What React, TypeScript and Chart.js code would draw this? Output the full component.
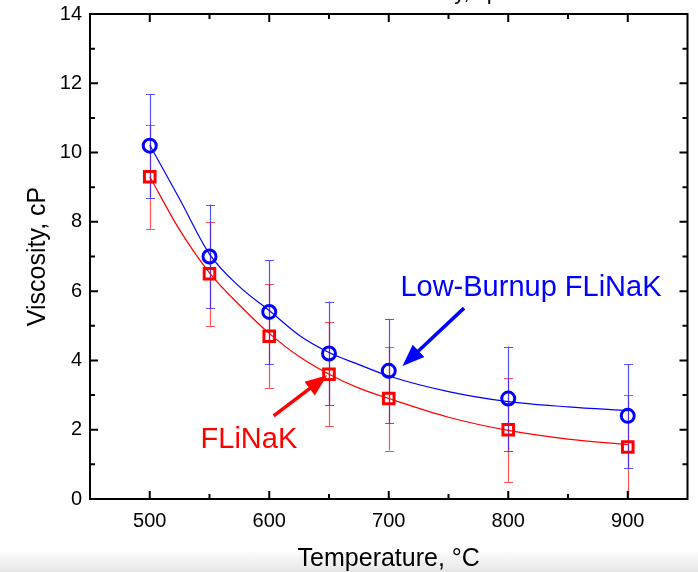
import React, { useEffect, useRef } from "react";
import { Chart, registerables } from "chart.js";
Chart.register(...registerables);

// Measured points
const temps = [500, 550, 600, 650, 700, 800, 900];
const lowBurnup = [10.2, 7.0, 5.4, 4.2, 3.7, 2.9, 2.4];
const lowBurnupErr = [1.5, 1.5, 1.5, 1.5, 1.5, 1.5, 1.5];
const flinak = [9.3, 6.5, 4.7, 3.6, 2.9, 2.0, 1.5];
const flinakErr = [1.5, 1.5, 1.5, 1.5, 1.5, 1.5, 1.5];

// Fit curves
const fitTemps = [500, 525, 550, 575, 600, 625, 650, 675, 700, 750, 800, 850, 900];
const lowBurnupFit = [10.22, 8.66, 7.07, 6.13, 5.44, 4.73, 4.23, 3.88, 3.55, 3.1, 2.81, 2.66, 2.55];
const flinakFit = [9.3, 7.77, 6.53, 5.6, 4.78, 4.11, 3.6, 3.2, 2.9, 2.36, 1.98, 1.73, 1.57];

// Axis settings
const xMin = 450;
const xMax = 950;
const yMin = 0;
const yMax = 14;

const FONT = "'Liberation Sans', Arial, Helvetica, sans-serif";
const BLUE = "#0000ff";
const RED = "#ff0000";

const toXY = (xs: number[], ys: number[]) => xs.map((x, i) => ({ x, y: ys[i] }));

const framePlugin = {
  id: "frameTicks",
  beforeDatasetsDraw(chart: any) {
    const { ctx, scales } = chart;
    const xs = scales.x;
    const ys = scales.y;
    ctx.save();
    const drawErr = (vals: number[], errs: number[], color: string) => {
      ctx.strokeStyle = color;
      ctx.lineWidth = 1.2;
      temps.forEach((t, i) => {
        const px = Math.round(xs.getPixelForValue(t)) + 0.5;
        const lo = Math.max(yMin, vals[i] - errs[i]);
        const hi = Math.min(yMax, vals[i] + errs[i]);
        const pLo = ys.getPixelForValue(lo);
        const pHi = ys.getPixelForValue(hi);
        ctx.beginPath();
        ctx.moveTo(px, pLo);
        ctx.lineTo(px, pHi);
        ctx.moveTo(px - 4.5, Math.round(pHi) + 0.5);
        ctx.lineTo(px + 4.5, Math.round(pHi) + 0.5);
        ctx.moveTo(px - 4.5, Math.round(pLo) + 0.5);
        ctx.lineTo(px + 4.5, Math.round(pLo) + 0.5);
        ctx.stroke();
      });
    };
    drawErr(flinak, flinakErr, "rgba(255,40,40,0.8)");
    drawErr(lowBurnup, lowBurnupErr, "rgba(40,40,255,0.8)");
    ctx.restore();
  },
  afterDraw(chart: any) {
    const { ctx, chartArea, scales } = chart;
    const { left, right, top, bottom } = chartArea;
    const xs = scales.x;
    const ys = scales.y;
    ctx.save();
    ctx.strokeStyle = "#000";
    ctx.lineWidth = 2;
    ctx.strokeRect(left, top, right - left, bottom - top);
    ctx.beginPath();
    for (let v = xMin + 50; v < xMax; v += 50) {
      const px = xs.getPixelForValue(v);
      const len = v % 100 === 0 ? 8 : 5;
      ctx.moveTo(px, bottom);
      ctx.lineTo(px, bottom - len);
      ctx.moveTo(px, top);
      ctx.lineTo(px, top + len);
    }
    for (let v = yMin + 1; v < yMax; v += 1) {
      const py = ys.getPixelForValue(v);
      const len = v % 2 === 0 ? 8 : 5;
      ctx.moveTo(left, py);
      ctx.lineTo(left + len, py);
      ctx.moveTo(right, py);
      ctx.lineTo(right - len, py);
    }
    ctx.stroke();

    // clipped title at top
    ctx.fillStyle = "#000";
    ctx.font = `22px ${FONT}`;
    ctx.textAlign = "right";
    ctx.textBaseline = "alphabetic";
    ctx.fillText("Viscosity, cp", 499, -1.5);

    // annotations
    const arrow = (x1: number, y1: number, x2: number, y2: number, color: string) => {
      const ax = xs.getPixelForValue(x1);
      const ay = ys.getPixelForValue(y1);
      const bx = xs.getPixelForValue(x2);
      const by = ys.getPixelForValue(y2);
      const ang = Math.atan2(by - ay, bx - ax);
      const hl = 22;
      const hw = 8.5;
      const baseX = bx - hl * Math.cos(ang);
      const baseY = by - hl * Math.sin(ang);
      ctx.strokeStyle = color;
      ctx.fillStyle = color;
      ctx.lineWidth = 3.5;
      ctx.beginPath();
      ctx.moveTo(ax, ay);
      ctx.lineTo(baseX + 2 * Math.cos(ang), baseY + 2 * Math.sin(ang));
      ctx.stroke();
      ctx.beginPath();
      ctx.moveTo(bx, by);
      ctx.lineTo(baseX + hw * Math.sin(ang), baseY - hw * Math.cos(ang));
      ctx.lineTo(baseX - hw * Math.sin(ang), baseY + hw * Math.cos(ang));
      ctx.closePath();
      ctx.fill();
    };
    arrow(763, 5.51, 711.5, 3.84, BLUE);
    arrow(603.7, 2.4, 648.5, 3.57, RED);

    ctx.font = `29px ${FONT}`;
    ctx.textAlign = "center";
    ctx.textBaseline = "middle";
    ctx.fillStyle = BLUE;
    ctx.fillText("Low-Burnup FLiNaK", xs.getPixelForValue(819), ys.getPixelForValue(6.09));
    ctx.fillStyle = RED;
    ctx.fillText("FLiNaK", xs.getPixelForValue(583), ys.getPixelForValue(1.7));
    ctx.restore();
  },
};

export default function App() {
  const ref = useRef<HTMLCanvasElement>(null);
  useEffect(() => {
    if (!ref.current) return;
    const chart = new Chart(ref.current, {
      type: "scatter",
      data: {
        datasets: [
          {
            label: "Low-Burnup FLiNaK",
            data: toXY(temps, lowBurnup),
            showLine: false,
            pointStyle: "circle",
            pointRadius: 6.5,
            borderWidth: 3,
            borderColor: BLUE,
            backgroundColor: "rgba(0,0,0,0)",
            order: 1,
          },
          {
            label: "FLiNaK",
            data: toXY(temps, flinak),
            showLine: false,
            pointStyle: "rect",
            pointRadius: 7.5,
            borderWidth: 3,
            borderColor: RED,
            backgroundColor: "rgba(0,0,0,0)",
            order: 2,
          },
          {
            label: "Low-Burnup fit",
            data: toXY(fitTemps, lowBurnupFit),
            showLine: true,
            pointRadius: 0,
            borderWidth: 1.2,
            borderColor: BLUE,
            cubicInterpolationMode: "monotone",
            order: 3,
          },
          {
            label: "FLiNaK fit",
            data: toXY(fitTemps, flinakFit),
            showLine: true,
            pointRadius: 0,
            borderWidth: 1.2,
            borderColor: RED,
            cubicInterpolationMode: "monotone",
            order: 4,
          },
        ],
      } as any,
      options: {
        animation: false,
        responsive: false,
        devicePixelRatio: 1,
        layout: { padding: { top: 14, right: 10, left: 0, bottom: 0 } },
        plugins: { legend: { display: false }, tooltip: { enabled: false } },
        scales: {
          x: {
            type: "linear",
            min: xMin,
            max: xMax,
            grid: { display: false, drawTicks: false },
            border: { display: false },
            ticks: {
              stepSize: 50,
              autoSkip: false,
              maxRotation: 0,
              padding: 10,
              color: "#000",
              font: { family: FONT, size: 20 },
              callback: (v: any) => (Number(v) % 100 === 0 ? String(v) : ""),
            },
            title: {
              display: true,
              text: "Temperature, °C",
              color: "#000",
              font: { family: FONT, size: 25, lineHeight: 1.0 },
              padding: { top: 0, bottom: 0 },
            },
            afterFit: (s: any) => {
              s.height = 73;
              s.paddingLeft = 0;
              s.paddingRight = 0;
            },
          },
          y: {
            type: "linear",
            min: yMin,
            max: yMax,
            grid: { display: false, drawTicks: false },
            border: { display: false },
            ticks: {
              stepSize: 1,
              autoSkip: false,
              padding: 8,
              color: "#000",
              font: { family: FONT, size: 20 },
              callback: (v: any) => (Number(v) % 2 === 0 ? String(v) : ""),
            },
            title: {
              display: true,
              text: "Viscosity, cP",
              color: "#000",
              font: { family: FONT, size: 25 },
              padding: { top: 23, bottom: 0 },
            },
            afterFit: (s: any) => {
              s.width = 90;
              s.paddingTop = 0;
              s.paddingBottom = 0;
            },
          },
        },
      } as any,
      plugins: [framePlugin],
    });
    return () => chart.destroy();
  }, []);

  return (
    <div style={{ position: "fixed", left: 0, top: 0, width: 698, height: 572, background: "#fff", overflow: "hidden" }}>
      <div
        style={{
          position: "absolute",
          left: 0,
          top: 550,
          width: 698,
          height: 22,
          background: "linear-gradient(to bottom, rgba(255,255,255,0), #e6e6e6)",
        }}
      />
      <canvas ref={ref} width={698} height={572} style={{ position: "absolute", left: 0, top: 0, display: "block" }} />
    </div>
  );
}
